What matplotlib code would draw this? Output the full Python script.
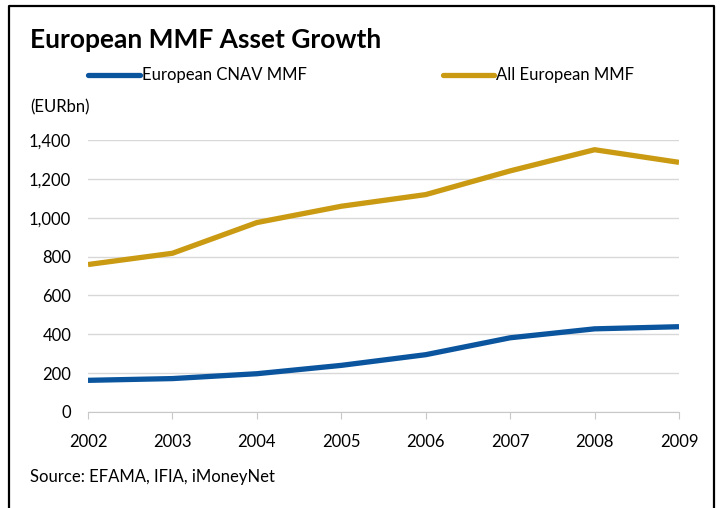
import matplotlib
matplotlib.use('Agg')
from matplotlib import pyplot as plt
from matplotlib.lines import Line2D

years = [2002, 2003, 2004, 2005, 2006, 2007, 2008, 2009]
cnav_mmf = [163, 172, 197, 240, 295, 382, 428, 439]
all_mmf = [759, 817, 975, 1059, 1119, 1241, 1350, 1285]
y_ticks = [0, 200, 400, 600, 800, 1000, 1200, 1400]
y_labels = ['0', '200', '400', '600', '800', '1,000', '1,200', '1,400']

BLUE = '#0b559f'
GOLD = '#c99a12'

plt.rcParams['font.family'] = ['Lato', 'DejaVu Sans']

fig = plt.figure(figsize=(7.21, 5.08), dpi=100)
ax = fig.add_axes([88/721, 1-412/508, (679-88)/721, (412-140)/508])

ax.plot(years, cnav_mmf, color=BLUE, lw=3.8, solid_capstyle='butt')
ax.plot(years, all_mmf, color=GOLD, lw=3.8, solid_capstyle='butt')

ax.set_xlim(2002, 2009)
ax.set_ylim(0, 1400)
ax.set_xticks(years)
ax.set_xticklabels([str(y) for y in years], fontsize=12)
ax.set_yticks(y_ticks)
ax.set_yticklabels(y_labels, fontsize=12)
ax.yaxis.grid(True, color='#d8d8d8', lw=1)
ax.set_axisbelow(True)
for s in ['top', 'right', 'left']:
    ax.spines[s].set_visible(False)
ax.spines['bottom'].set_color('#c8c8c8')
ax.tick_params(axis='y', length=0, pad=12)
ax.tick_params(axis='x', length=5, color='#c8c8c8', pad=11)

# title, legend, notes
fig.text(30/721, 1-40/508, 'European MMF Asset Growth', fontsize=19, fontweight='bold', va='center')
fig.add_artist(Line2D([88/721, 140/721], [1-75/508]*2, color=BLUE, lw=3.8, solid_capstyle='round'))
fig.text(142/721, 1-75/508, 'European CNAV MMF', fontsize=12, va='center')
fig.add_artist(Line2D([443/721, 494/721], [1-75/508]*2, color=GOLD, lw=3.8, solid_capstyle='round'))
fig.text(496/721, 1-75/508, 'All European MMF', fontsize=12, va='center')
fig.text(30/721, 1-107/508, '(EURbn)', fontsize=12, va='center')
fig.text(30/721, 1-477/508, 'Source: EFAMA, IFIA, iMoneyNet', fontsize=12, va='center')

# frame
fx = [9/721, 9/721, 714/721, 714/721]
fy = [0, 1-6/508, 1-6/508, 0]
fig.add_artist(Line2D(fx, fy, color='black', lw=1.6))

fig.savefig('out.png', dpi=100)
